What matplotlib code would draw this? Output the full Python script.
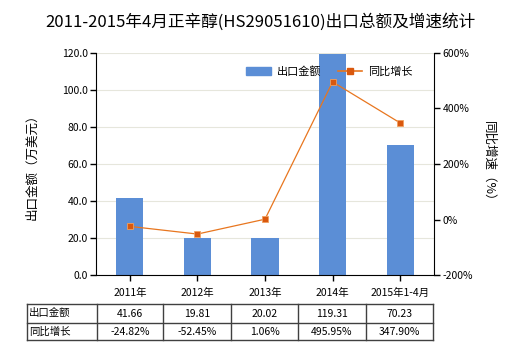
import matplotlib
matplotlib.use("Agg")
import matplotlib.pyplot as plt
from matplotlib.lines import Line2D

plt.rcParams['font.family'] = ['Noto Sans CJK SC', 'DejaVu Sans']

categories = ["2011年", "2012年", "2013年", "2014年", "2015年1-4月"]
export_values = [41.66, 19.81, 20.02, 119.31, 70.23]
growth_values = [-24.82, -52.45, 1.06, 495.95, 347.90]
export_labels = ["41.66", "19.81", "20.02", "119.31", "70.23"]
growth_labels = ["-24.82%", "-52.45%", "1.06%", "495.95%", "347.90%"]
left_ticks = [0, 20, 40, 60, 80, 100, 120]
right_ticks = [-200, 0, 200, 400, 600]

W, H = 520, 350
fig = plt.figure(figsize=(W / 100, H / 100), dpi=100)

ax_l, ax_r, ax_t, ax_b = 96, 434, 53, 275
ax = fig.add_axes([ax_l / W, 1 - ax_b / H, (ax_r - ax_l) / W, (ax_b - ax_t) / H])
x = list(range(len(categories)))

bar_color = "#5B8ED6"
ax.bar(x, export_values, width=0.4, color=bar_color, zorder=2, label="出口金额")
ax.set_xlim(-0.5, len(categories) - 0.5)
ax.set_ylim(0, 120)
ax.set_yticks(left_ticks)
ax.set_yticklabels([f"{v:.1f}" for v in left_ticks], fontsize=7.5)
ax.set_xticks(x)
ax.set_xticklabels(categories, fontsize=7.5)
ax.grid(axis='y', color="#E6E6DC", lw=0.8, zorder=0)
ax.set_axisbelow(True)
ax.spines['top'].set_visible(False)
ax.spines['right'].set_visible(False)
ax.tick_params(axis='both', direction='out', length=4, width=1, pad=2, color='black')
ax.tick_params(axis='x', pad=5)
ax.set_ylabel("出口金额（万美元）", fontsize=9, labelpad=17)

ax2 = ax.twinx()
ax2.set_ylim(-200, 600)
ax2.set_yticks(right_ticks)
ax2.set_yticklabels([f"{v}%" for v in right_ticks], fontsize=7.5)
ax2.plot(x, growth_values, color="#E8761F", lw=0.9, marker='s', markersize=4.5,
         markerfacecolor="#D9580E", markeredgecolor="#F0A060", markeredgewidth=0.6, zorder=3)
for s in ['top', 'left', 'bottom']:
    ax2.spines[s].set_visible(False)
ax2.tick_params(axis='y', direction='out', length=4, width=1, pad=2)
ax2.set_ylabel("同比增速（%）", fontsize=9, rotation=270, labelpad=16)

handles = [plt.Rectangle((0, 0), 1, 1, color=bar_color),
           Line2D([0], [0], color="#E8761F", lw=1.2, marker='s', markersize=4,
                  markerfacecolor="#D9580E", markeredgecolor="#D9580E")]
ax.legend(handles, ["出口金额", "同比增长"], ncol=2, frameon=False, loc='center',
          bbox_to_anchor=(0.69, 0.915), fontsize=8, handlelength=2.2, columnspacing=1.5,
          handletextpad=0.5)

fig.text(0.5, 1 - 22 / H, "2011-2015年4月正辛醇(HS29051610)出口总额及增速统计",
         ha='center', va='center', fontsize=12)

# Table
cols = [26.7, 96.7, 163, 231, 298, 366, 433]
rows = [304, 322.5, 340.3]
for cx in cols:
    fig.add_artist(Line2D([cx / W, cx / W], [1 - rows[0] / H, 1 - rows[-1] / H],
                          color='#404040', lw=1, transform=fig.transFigure))
for ry in rows:
    fig.add_artist(Line2D([cols[0] / W, cols[-1] / W], [1 - ry / H, 1 - ry / H],
                          color='#404040', lw=1, transform=fig.transFigure))
row_names = ["出口金额", "同比增长"]
row_values = [export_labels, growth_labels]
for r in range(2):
    yc = (rows[r] + rows[r + 1]) / 2
    fig.text((cols[0] + 2) / W, 1 - yc / H, row_names[r], ha='left', va='center', fontsize=7.5)
    for c in range(len(categories)):
        xc = (cols[c + 1] + cols[c + 2]) / 2
        fig.text(xc / W, 1 - (yc + 1) / H, row_values[r][c], ha='center', va='center', fontsize=7.5)

fig.savefig("out.png", dpi=100)
